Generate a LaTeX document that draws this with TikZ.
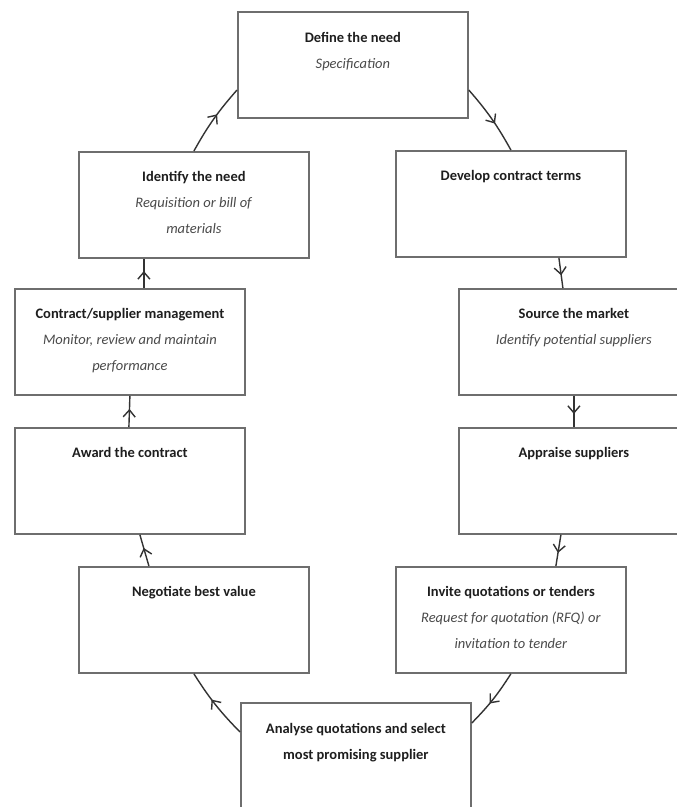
\documentclass[tikz,border=0pt]{standalone}
\usepackage{fontspec}
\setmainfont{Carlito}
\usetikzlibrary{arrows.meta,decorations.markings,calc}

\definecolor{boxline}{HTML}{6E6E6E}
\definecolor{flowline}{HTML}{333333}
\definecolor{titlecol}{HTML}{1E1E1E}
\definecolor{subcol}{HTML}{4A4A4A}

\tikzset{
  stagebox/.style={draw=boxline, line width=1.8pt, fill=white, anchor=north west,
    inner sep=0pt, minimum width=230pt, minimum height=106pt},
  stagetext/.style={anchor=north, inner sep=0pt, align=center, text=titlecol,
    font={\fontsize{14.5}{26}\selectfont}},
  flow/.style={draw=flowline, line width=1.4pt, postaction={decorate},
    decoration={markings, mark=at position 0.58 with
      {\arrow{Straight Barb[length=7pt,width=12pt,line width=1.4pt]}}}}
}
\newcommand{\stitle}[1]{\textbf{#1}}
\newcommand{\ssub}[1]{\textcolor{subcol}{\textit{#1}}}

\begin{document}
\begin{tikzpicture}[x=1pt,y=-1pt]
  \fill[white] (0,0) rectangle (677,807);
  \clip (0,0) rectangle (677,807);

  % stage boxes around the cycle
  \node[stagebox] (define)    at (237,11)  {};
  \node[stagebox] (identify)  at (78,151)  {};
  \node[stagebox] (develop)   at (395,150) {};
  \node[stagebox] (contract)  at (14,288)  {};
  \node[stagebox] (source)    at (458,288) {};
  \node[stagebox] (award)     at (14,427)  {};
  \node[stagebox] (appraise)  at (458,427) {};
  \node[stagebox] (negotiate) at (78,566)  {};
  \node[stagebox] (invite)    at (395,566) {};
  \node[stagebox, minimum height=125pt] (analyse) at (240,702) {};

  % stage labels
  \node[stagetext] (define-t) at ([yshift=-21pt]define.north)
    {\stitle{Define the need}\\\ssub{Specification}};
  \node[stagetext] (identify-t) at ([yshift=-20pt]identify.north)
    {\stitle{Identify the need}\\\ssub{Requisition or bill of}\\\ssub{materials}};
  \node[stagetext] (develop-t) at ([yshift=-20pt]develop.north)
    {\stitle{Develop contract terms}};
  \node[stagetext] (contract-t) at ([yshift=-20pt]contract.north)
    {\stitle{Contract/supplier management}\\\ssub{Monitor, review and maintain}\\\ssub{performance}};
  \node[stagetext] (source-t) at ([yshift=-20pt]source.north)
    {\stitle{Source the market}\\\ssub{Identify potential suppliers}};
  \node[stagetext] (award-t) at ([yshift=-20pt]award.north)
    {\stitle{Award the contract}};
  \node[stagetext] (appraise-t) at ([yshift=-20pt]appraise.north)
    {\stitle{Appraise suppliers}};
  \node[stagetext] (negotiate-t) at ([yshift=-20pt]negotiate.north)
    {\stitle{Negotiate best value}};
  \node[stagetext] (invite-t) at ([yshift=-20pt]invite.north)
    {\stitle{Invite quotations or tenders}\\\ssub{Request for quotation (RFQ) or}\\\ssub{invitation to tender}};
  \node[stagetext] (analyse-t) at ([yshift=-21pt]analyse.north)
    {\stitle{Analyse quotations and select}\\\stitle{most promising supplier}};

  % connectors, clockwise
  \draw[flow] (identify.north) to[bend left=6] ([yshift=-79pt]define.north west);
  \draw[flow] ([yshift=-79pt]define.north east) to[bend left=6] (develop.north);
  \draw[flow] ([xshift=48pt]develop.south) -- ([xshift=-11pt]source.north);
  \draw[flow] (source.south) -- (appraise.north);
  \draw[flow] ([xshift=-13pt]appraise.south) -- ([xshift=45pt]invite.north);
  \draw[flow] (invite.south) to[bend left=6] ([yshift=-21pt]analyse.north east);
  \draw[flow] ([yshift=-30pt]analyse.north west) to[bend left=6] (negotiate.south);
  \draw[flow] ([xshift=-45pt]negotiate.north) -- ([xshift=10pt]award.south);
  \draw[flow] ([xshift=-1pt]award.north) -- (contract.south);
  \draw[flow] ([xshift=14pt]contract.north) -- ([xshift=-50pt]identify.south);
\end{tikzpicture}
\end{document}
